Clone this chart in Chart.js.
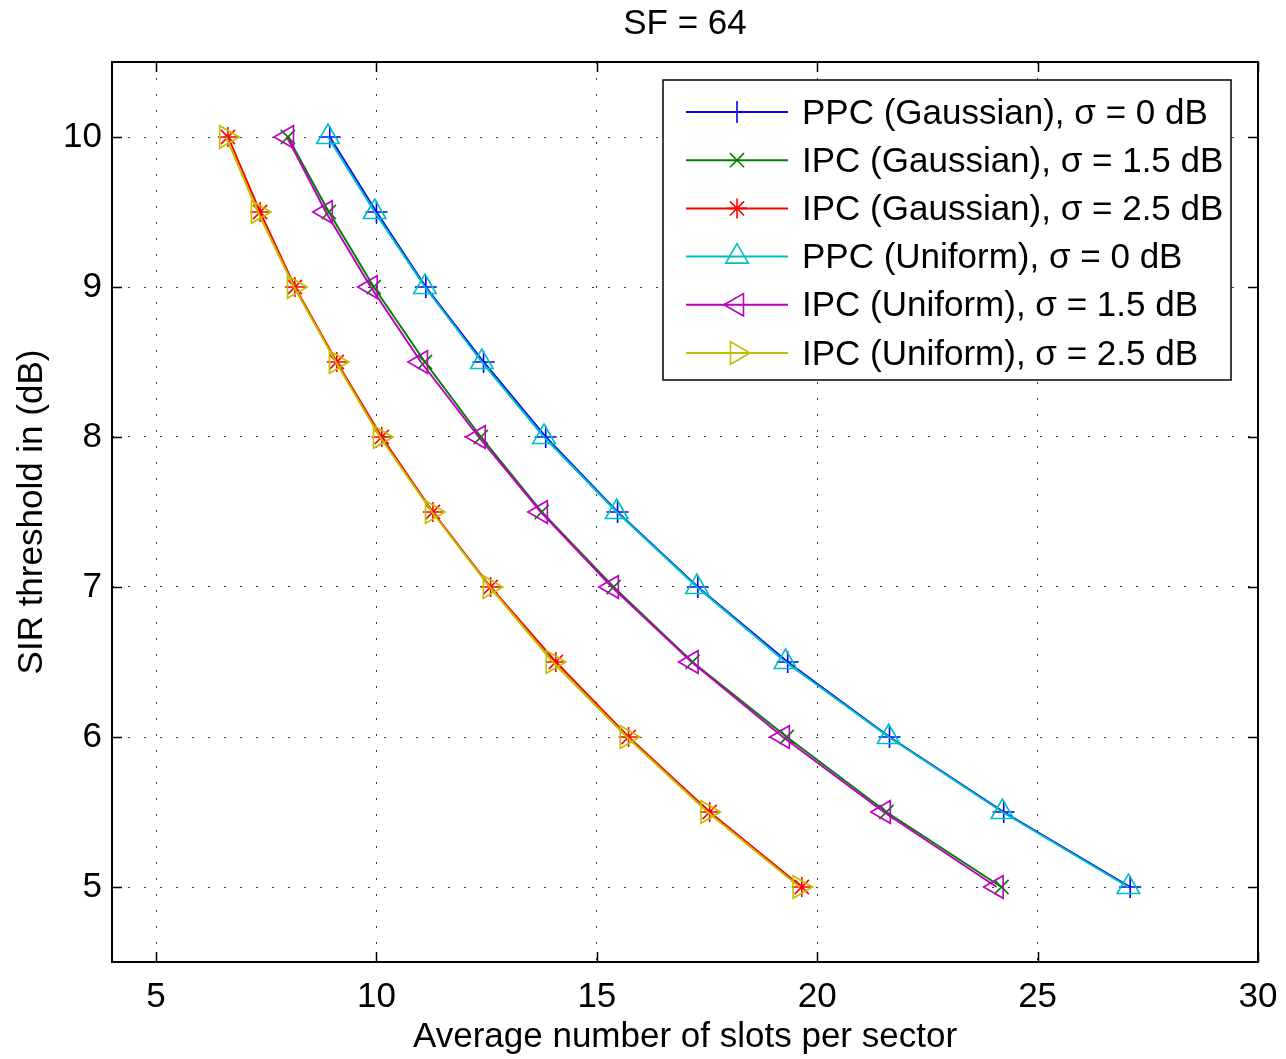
<!DOCTYPE html>
<html>
<head>
<meta charset="utf-8">
<script src="https://cdn.jsdelivr.net/npm/chart.js@4.4.0/dist/chart.umd.min.js"></script>
<style>
  body { margin: 0; background: #fff; }
  #wrap { width: 1286px; height: 1059px; }
</style>
</head>
<body>
<div id="wrap"><canvas id="myChart" width="1286" height="1059"></canvas></div>
<script>
// SIR threshold levels (y) shared by every curve
const sirLevels = [10, 9.5, 9, 8.5, 8, 7.5, 7, 6.5, 6, 5.5, 5]

// average number of slots per sector (x) for each curve
const ppcGauss0 = [8.94, 10.0, 11.12, 12.43, 13.84, 15.47, 17.29, 19.33, 21.64, 24.23, 27.10]
const ipcGauss15 = [7.99, 8.92, 9.94, 11.10, 12.37, 13.75, 15.38, 17.17, 19.31, 21.57, 24.18]
const ipcGauss25 = [6.63, 7.36, 8.15, 9.10, 10.12, 11.28, 12.59, 14.07, 15.72, 17.56, 19.65]
const ppcUnif0 = [8.90, 9.96, 11.10, 12.39, 13.80, 15.45, 17.27, 19.28, 21.62, 24.20, 27.06]
const ipcUnif15 = [7.97, 8.85, 9.87, 11.01, 12.32, 13.73, 15.34, 17.15, 19.22, 21.51, 24.07]
const ipcUnif25 = [6.59, 7.31, 8.13, 9.08, 10.08, 11.26, 12.57, 14.00, 15.68, 17.51, 19.60]

const seriesNames = [
    'PPC (Gaussian), σ = 0 dB',
    'IPC (Gaussian), σ = 1.5 dB',
    'IPC (Gaussian), σ = 2.5 dB',
    'PPC (Uniform), σ = 0 dB',
    'IPC (Uniform), σ = 1.5 dB',
    'IPC (Uniform), σ = 2.5 dB'
]
const seriesX = [ppcGauss0, ipcGauss15, ipcGauss25, ppcUnif0, ipcUnif15, ipcUnif25]

const xTicks = [5, 10, 15, 20, 25, 30]
const yTicks = [5, 6, 7, 8, 9, 10]

// styles (matlab default colour order / markers)
const colors = ['#0000ff', '#008000', '#ff0000', '#00bfbf', '#bf00bf', '#bfbf00']
const markers = ['cross', 'crossRot', 'star', 'triangle', 'triangle', 'triangle']
const rotations = [0, 0, 0, 0, -90, 90]
const radii = [11, 10, 10, 13, 13, 13]

const FONT = "'Liberation Sans', Arial, sans-serif"
Chart.defaults.font.family = FONT
Chart.defaults.color = '#000'

const datasets = seriesX.map((xs, i) => ({
    label: seriesNames[i],
    data: xs.map((x, k) => ({ x: x, y: sirLevels[k] })),
    showLine: true,
    borderColor: colors[i],
    borderWidth: 2,
    pointStyle: markers[i],
    pointRotation: rotations[i],
    pointRadius: radii[i],
    pointHoverRadius: radii[i],
    pointBorderColor: colors[i],
    pointBackgroundColor: 'rgba(0,0,0,0)',
    pointBorderWidth: 1.6,
    order: 5 - i
}))

// box, inward ticks, title and the legend, matlab style
const matlabAxes = {
    id: 'matlabAxes',
    afterDraw(chart) {
        const ctx = chart.ctx
        const a = chart.chartArea
        const xs = chart.scales.x, ys = chart.scales.y
        ctx.save()
        ctx.strokeStyle = '#000'
        ctx.lineWidth = 1.5
        ctx.beginPath()
        xTicks.forEach(v => {
            const p = Math.round(xs.getPixelForValue(v)) + 0.5
            ctx.moveTo(p, a.bottom); ctx.lineTo(p, a.bottom - 10)
            ctx.moveTo(p, a.top); ctx.lineTo(p, a.top + 10)
        })
        yTicks.forEach(v => {
            const p = Math.round(ys.getPixelForValue(v)) + 0.5
            ctx.moveTo(a.left, p); ctx.lineTo(a.left + 10, p)
            ctx.moveTo(a.right, p); ctx.lineTo(a.right - 10, p)
        })
        ctx.stroke()
        ctx.lineWidth = 2
        ctx.strokeRect(a.left, a.top, a.right - a.left, a.bottom - a.top)

        ctx.font = '35px ' + FONT
        ctx.fillStyle = '#000'
        ctx.textAlign = 'center'
        ctx.textBaseline = 'middle'
        ctx.fillText('SF = 64', (a.left + a.right) / 2, 24)

        // legend
        const lx = 663, ly = 80, lw = 568, lh = 300
        ctx.fillStyle = '#fff'
        ctx.fillRect(lx, ly, lw, lh)
        ctx.lineWidth = 1.5
        ctx.strokeStyle = '#000'
        ctx.strokeRect(lx, ly, lw, lh)
        ctx.textAlign = 'left'
        seriesNames.forEach((name, i) => {
            const y = ly + 32 + i * 48.2
            ctx.strokeStyle = colors[i]
            ctx.lineWidth = 2
            ctx.beginPath()
            ctx.moveTo(686, y); ctx.lineTo(788, y)
            ctx.stroke()
            ctx.lineWidth = 1.6
            ctx.fillStyle = 'rgba(0,0,0,0)'
            Chart.helpers.drawPoint(ctx, {
                pointStyle: markers[i], rotation: rotations[i],
                radius: radii[i], borderWidth: 1.6
            }, 737, y)
            ctx.fillStyle = '#000'
            ctx.fillText(name, 802, y + 2)
        })
        ctx.restore()
    }
}

const ctx = document.getElementById('myChart').getContext('2d')
new Chart(ctx, {
    type: 'scatter',
    data: { datasets: datasets },
    options: {
        responsive: false,
        animation: false,
        devicePixelRatio: 1,
        layout: { padding: { top: 62, right: 28, left: 0, bottom: 0 } },
        plugins: {
            legend: { display: false },
            tooltip: { enabled: false },
            title: { display: false }
        },
        scales: {
            x: {
                type: 'linear',
                min: 4,
                max: 30,
                afterBuildTicks: s => { s.ticks = xTicks.map(v => ({ value: v })) },
                afterFit: s => { s.height = 97; s.paddingLeft = 0; s.paddingRight = 0 },
                grid: { color: '#333', lineWidth: 1, drawTicks: false },
                border: { display: false, dash: [2, 14] },
                ticks: { font: { size: 35 }, color: '#000', padding: 14, maxRotation: 0 },
                title: {
                    display: true,
                    text: 'Average number of slots per sector',
                    color: '#000',
                    font: { size: 35 },
                    padding: { top: 0, bottom: 1 }
                }
            },
            y: {
                type: 'linear',
                min: 4.5,
                max: 10.5,
                afterBuildTicks: s => { s.ticks = yTicks.map(v => ({ value: v })) },
                afterFit: s => { s.width = 112; s.paddingTop = 0; s.paddingBottom = 0 },
                grid: { color: '#333', lineWidth: 1, drawTicks: false },
                border: { display: false, dash: [2, 14] },
                ticks: { font: { size: 35 }, color: '#000', padding: 10 },
                title: {
                    display: true,
                    text: 'SIR threshold in (dB)',
                    color: '#000',
                    font: { size: 35 },
                    padding: { top: 11, bottom: 0 }
                }
            }
        }
    },
    plugins: [matlabAxes]
})
</script>
</body>
</html>
